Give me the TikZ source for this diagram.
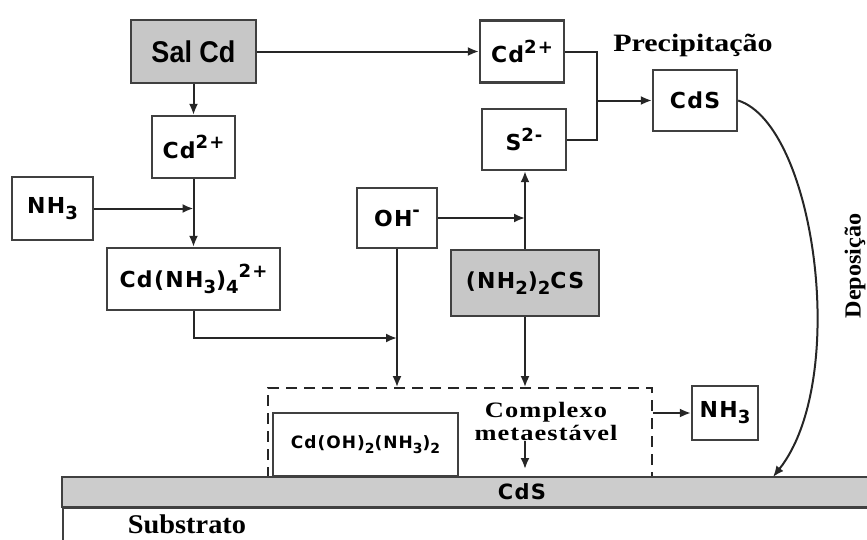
\documentclass[tikz,border=0pt]{standalone}
\usepackage{fontspec}
\setmainfont{DejaVu Sans}
\newfontfamily\boxfont{DejaVu Sans}[LetterSpace=6]
\newfontfamily\salfont{Liberation Sans}[FakeStretch=0.9]
\newfontfamily\serifwide{Liberation Serif}[FakeStretch=1.2]
\newfontfamily\serifspaced{Liberation Serif}[FakeStretch=1.2,LetterSpace=5]
\newfontfamily\serifnorm{Liberation Serif}[FakeStretch=1.05]
\usetikzlibrary{arrows.meta, calc}
% chemical indices
\newcommand{\chdn}[1]{\raisebox{-0.28em}{\scalebox{0.82}{#1}}}
\newcommand{\chup}[1]{\raisebox{0.42em}{\scalebox{0.82}{#1}}}

\begin{document}
\begin{tikzpicture}[x=1pt, y=-1pt,
    box/.style={draw=black!75, line width=2.3pt, fill=white, inner sep=0pt,
        font=\boxfont\bfseries\fontsize{22}{25}\selectfont},
    graybox/.style={box, fill=black!22},
    lbl/.style={font=\serifwide\bfseries\fontsize{25}{28}\selectfont},
    flow/.style={line width=2pt, draw=black!85},
    >={Latex[length=11pt, width=9pt]}]
    \useasboundingbox (0,0) rectangle (867,539);
    \clip (0,0) rectangle (867,539);

    % Cd branch
    \node[graybox, minimum width=125, minimum height=63,
        font=\salfont\bfseries\fontsize{30}{32}\selectfont] (salcd) at (193.5,51.5) {Sal Cd};
    \node[box, minimum width=83, minimum height=62] (cdA) at (193.5,147) {Cd\chup{2+}};
    \node[box, minimum width=81, minimum height=63] (nhA) at (52.5,208.5) {NH\chdn{3}};
    \node[box, minimum width=173, minimum height=62] (cdnh) at (193.5,279) {Cd(NH\chdn{3})\chdn{4}\chup{2+}};

    % S branch
    \node[box, minimum width=80, minimum height=60] (oh) at (397,218) {OH\chup{-}};
    \node[graybox, minimum width=148, minimum height=66] (tiou) at (525,283) {(NH\chdn{2})\chdn{2}CS};
    \node[box, minimum width=84, minimum height=61] (sB) at (524,139.5) {S\chup{2-}};
    \node[box, minimum width=84, minimum height=62] (cdB) at (522,51.5) {Cd\chup{2+}};
    \node[box, minimum width=84, minimum height=61] (cds) at (695,100.5) {CdS};
    \node[lbl] (prec) at (693,45) {Precipitação};

    % complex on the surface
    \node[draw=black!85, line width=1.8pt, dash pattern=on 11pt off 7pt,
        minimum width=384, minimum height=89, inner sep=0pt] (cplx) at (460,432.5) {};
    \node[box, minimum width=185, minimum height=63,
        font=\boxfont\bfseries\fontsize{17}{20}\selectfont] (cdoh) at (365.5,444.5) {Cd(OH)\chdn{2}(NH\chdn{3})\chdn{2}};
    \node[font=\serifspaced\bfseries\fontsize{22}{23}\selectfont, align=center,
        inner sep=1pt] (cplxt) at (546,421) {Complexo\\metaestável};
    \node[box, minimum width=66, minimum height=54] (nhB) at (725,413) {NH\chdn{3}};

    % film and substrate
    \node[draw=black!75, line width=2.3pt, fill=black!20, minimum width=808,
        minimum height=30, inner sep=0pt] (layer) at (466,492) {};
    \node[font=\boxfont\bfseries\fontsize{21}{23}\selectfont] (cdsl) at (522,492) {CdS};
    \node[draw=black!75, line width=2.3pt, minimum width=808, minimum height=40,
        inner sep=0pt, anchor=north west] (sub) at (62,507) {};
    \node[font=\serifnorm\bfseries\fontsize{27}{30}\selectfont] (subl) at (187,524) {Substrato};
    \node[rotate=90, font=\serifnorm\bfseries\fontsize{23}{25}\selectfont] (depo) at (855,266) {Deposição};

    % junctions
    \coordinate (j1) at (oh.south |- 0,338);
    \coordinate (j2) at (cds.west -| 597,0);
    \coordinate (dep) at (773,477);
    \coordinate (dn) at (tiou.south |- 0,469);

    % arrows
    \draw[flow, ->] (salcd.south) -- (cdA.north);
    \draw[flow, ->] (salcd.east) -- (cdB.west);
    \draw[flow, ->] (nhA.east) -- (nhA.east -| cdA.south);
    \draw[flow, ->] (cdA.south) -- (cdnh.north);
    \draw[flow, ->] (cdnh.south) |- (j1);
    \draw[flow, ->] (oh.south) -- (oh.south |- cplx.north);
    \draw[flow, ->] (oh.east) -- (oh.east -| tiou.north);
    \draw[flow, ->] (tiou.north) -- (tiou.north |- sB.south);
    \draw[flow, ->] (tiou.south) -- (tiou.south |- cplx.north);
    \draw[flow] (cdB.east) -| (j2) |- (sB.east);
    \draw[flow, ->] (j2) -- (cds.west);
    \draw[flow, ->] (cds.east) .. controls (815,125) and (850,380) .. (dep);
    \draw[flow, ->] (cplx.east |- nhB.west) -- (nhB.west);
    \draw[flow, ->] (cplxt.south -| tiou.south) -- (dn);
\end{tikzpicture}
\end{document}
